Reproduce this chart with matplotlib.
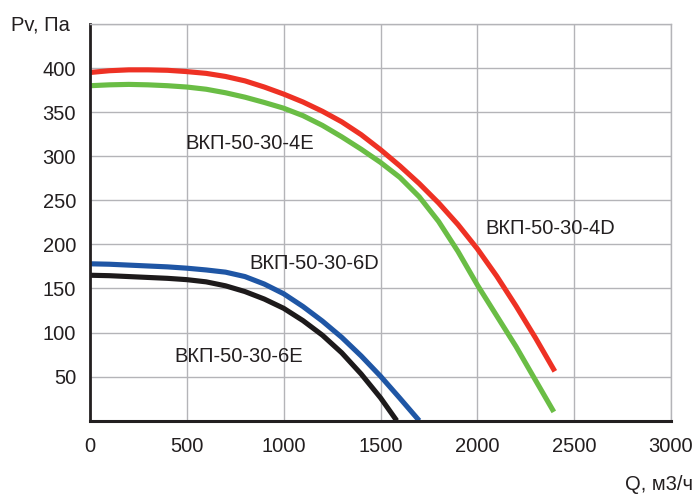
import matplotlib
matplotlib.use("Agg")
import matplotlib.pyplot as plt

plt.rcParams['font.family'] = ['Liberation Sans', 'DejaVu Sans']

# fan curves: Q (m3/h) vs Pv (Pa)
q_4d = [0, 100, 200, 300, 400, 500, 600, 700, 800, 900, 1000, 1100, 1200,
        1300, 1400, 1500, 1600, 1700, 1800, 1900, 2000, 2100, 2200, 2300, 2400]
p_4d = [395, 397, 398, 398, 397.5, 396, 394, 390.5, 385.5, 378.5, 370.5, 361.5,
        351, 339, 324.5, 307.5, 289, 269, 247, 222.5, 195, 164, 130, 94, 56]

q_4e = [0, 100, 200, 300, 400, 500, 600, 700, 800, 900, 1000, 1100, 1200,
        1300, 1400, 1500, 1600, 1700, 1800, 1900, 2000, 2100, 2200, 2300, 2395]
p_4e = [380, 381, 381.5, 381, 380, 378.5, 376, 372, 367, 361, 354.5, 346, 335,
        322, 308, 293, 276, 254, 226, 192, 154, 119, 84, 46, 10]

q_6d = [0, 100, 200, 300, 400, 500, 600, 700, 800, 900, 1000, 1100, 1200,
        1300, 1400, 1500, 1600, 1700]
p_6d = [178, 177.5, 176.5, 175.5, 174.5, 173, 171, 168.5, 163.5, 155, 144,
        129.5, 113, 94.5, 73.5, 50.5, 25.5, 0]

q_6e = [0, 100, 200, 300, 400, 500, 600, 700, 800, 900, 1000, 1100, 1200,
        1300, 1400, 1500, 1584]
p_6e = [165, 164.5, 163.5, 162.5, 161.5, 160, 157.5, 153, 146.5, 138, 127.5,
        113.5, 97, 77, 53, 26, 0]

x_ticks = [0, 500, 1000, 1500, 2000, 2500, 3000]
y_ticks = [50, 100, 150, 200, 250, 300, 350, 400]

labels = ['ВКП-50-30-4D', 'ВКП-50-30-4E', 'ВКП-50-30-6D', 'ВКП-50-30-6E']
label_pos = [(2040, 218), (491, 314), (821, 178), (434, 73)]

txt = '#231f20'
grid = '#b4b4b8'


def plot():
    fig = plt.figure(figsize=(6.96, 4.95), dpi=100)
    ax = fig.add_axes([0.1293, 0.1501, 0.8348, 0.8014])

    ax.set_xlim(0, 3000)
    ax.set_ylim(0, 450)
    ax.set_xticks(x_ticks)
    ax.set_yticks(y_ticks)
    ax.set_yticks(list(range(0, 451, 50)), minor=True)
    ax.grid(True, which='both', color=grid, lw=1.0)
    ax.set_axisbelow(True)
    ax.tick_params(length=0, labelsize=14.5, labelcolor=txt, which='both')
    ax.tick_params(axis='y', pad=10)
    ax.tick_params(axis='x', pad=12)

    for s in ('top', 'right'):
        ax.spines[s].set_color(grid)
        ax.spines[s].set_linewidth(1.0)
    ax.spines['left'].set_color(txt)
    ax.spines['left'].set_linewidth(2.0)
    ax.spines['bottom'].set_color(txt)
    ax.spines['bottom'].set_linewidth(2.2)

    kw = dict(lw=3.7, solid_capstyle='butt', solid_joinstyle='round')
    ax.plot(q_4d, p_4d, color='#ee3124', **kw)
    ax.plot(q_4e, p_4e, color='#6abd45', **kw)
    ax.plot(q_6d, p_6d, color='#1f56a5', **kw)
    ax.plot(q_6e, p_6e, color='#1d1a1b', **kw)

    for name, (x, y) in zip(labels, label_pos):
        ax.text(x, y, name, fontsize=14.5, color=txt, ha='left', va='center')

    fig.text(11 / 696, 1 - 25 / 495, 'Pv, Па', fontsize=14.5, color=txt,
             ha='left', va='center')
    fig.text(693 / 696, 1 - 484 / 495, 'Q, м3/ч', fontsize=14.5, color=txt,
             ha='right', va='center')

    fig.savefig('out.png', dpi=100)

plot()
